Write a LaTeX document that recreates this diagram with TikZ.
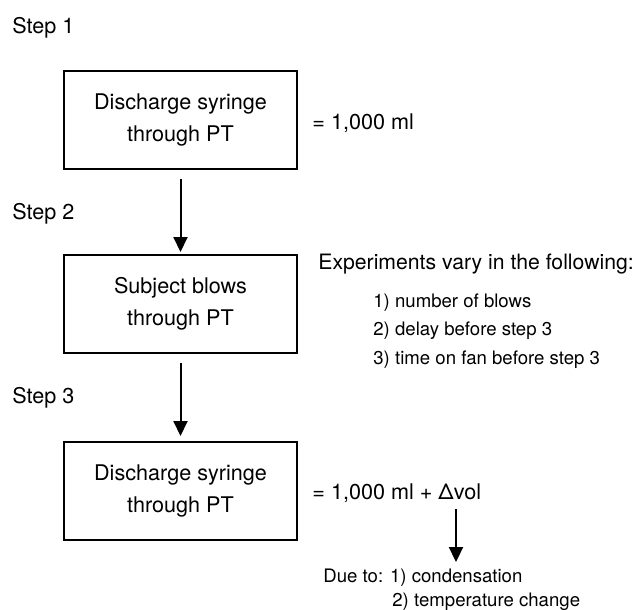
\documentclass[tikz,border=0pt]{standalone}
\usepackage{fontspec}
\setmainfont{TeX Gyre Heros}
\usetikzlibrary{arrows.meta,positioning,calc}
\tikzstyle{stepbox} = [rectangle, draw=black, line width=1pt, minimum width=116.5pt, minimum height=49pt, align=center, font=\fontsize{10.8}{16}\selectfont]
\tikzstyle{txt} = [anchor=base west, inner sep=0pt, font=\fontsize{10.8}{14}\selectfont]
\tikzstyle{smalltxt} = [anchor=base west, inner sep=0pt, align=left, font=\fontsize{9.3}{14.25}\selectfont]
\tikzstyle{arrow} = [line width=1pt,-{Triangle[length=7.5pt,width=7pt]}]

\begin{document}
\begin{tikzpicture}[x=0.5pt,y=-0.5pt]
\useasboundingbox (0,0) rectangle (637,610);
% step labels
\draw (12,34) node (s1) [txt] {Step 1};
\draw (12,219) node (s2) [txt] {Step 2};
\draw (12,403) node (s3) [txt] {Step 3};
% boxes
\draw (180.5,120) node (b1) [stepbox] {Discharge syringe\\through PT};
\draw (180.5,304) node (b2) [stepbox] {Subject blows\\through PT};
\draw (180.5,491) node (b3) [stepbox] {Discharge syringe\\through PT};
\draw[arrow, shorten <=4.5pt, shorten >=1pt] (b1)--(b2);
\draw[arrow, shorten <=4.5pt, shorten >=2.5pt] (b2)--(b3);
% right side text
\draw (312,130) node (v1) [txt] {= 1,000 ml};
\draw (318,269) node (exp) [txt, font=\fontsize{10.6}{14}\selectfont] {Experiments vary in the following:};
\draw (373,364) node (list) [smalltxt] {1) number of blows\\2) delay before step 3\\3) time on fan before step 3};
\draw (312,499) node (v2) [txt] {= 1,000 ml + Δvol};
\draw (323,606) node (due) [smalltxt, font=\fontsize{9.3}{12}\selectfont] {Due to: 1) condensation\\\hspace*{34.5pt}2) temperature change};
\coordinate (c1) at (456,509);
\draw[arrow, shorten >=3pt] (c1)--(c1 |- due.north);
\end{tikzpicture}
\end{document}
